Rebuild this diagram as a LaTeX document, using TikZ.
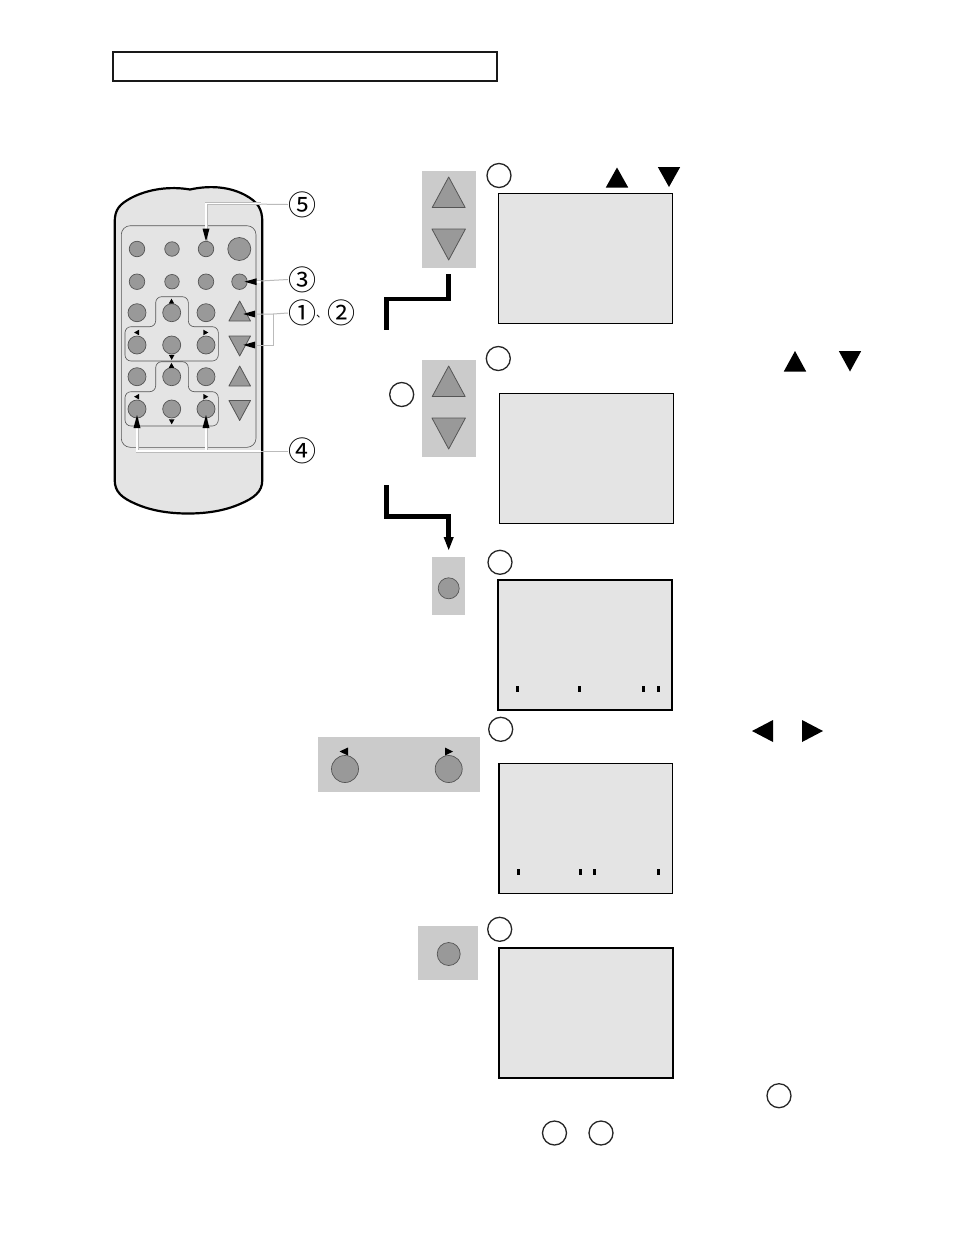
\documentclass[tikz,border=0pt]{standalone}
\usepackage{fontspec}
\newfontfamily\cjkfont{Noto Sans CJK JP}
\usetikzlibrary{arrows.meta}
\definecolor{panelgray}{HTML}{CBCBCB}
\definecolor{screengray}{HTML}{E4E4E4}
\definecolor{btngray}{HTML}{999999}
\definecolor{linegray}{HTML}{555555}
\definecolor{leadgray}{HTML}{BBBBBB}
\tikzset{
  panel/.style={fill=panelgray,draw=none},
  screenbox/.style={fill=screengray,draw=black,line width=1.4pt},
  btn/.style={circle,fill=btngray,draw=linegray,line width=.7pt,inner sep=0pt,minimum size=#1pt},
  tri/.style={fill=btngray,draw=linegray,line width=.8pt,line join=round},
  blacktri/.style={fill=black,draw=none},
  ring/.style={circle,draw=black!85,line width=1.3pt,fill=white,inner sep=0pt,minimum size=24pt},
  callout/.style={font=\cjkfont\fontsize{28}{28}\selectfont,inner sep=0pt},
  tenmark/.style={font=\cjkfont\fontsize{11}{11}\selectfont,inner sep=0pt},
  thin outline/.style={draw=linegray,line width=.6pt,rounded corners=6pt},
  lead/.style={draw=leadgray,line width=1pt},
  leadedge/.style={draw=leadgray,line width=3pt},
  leadin/.style={draw=white,line width=1.9pt},
  tip/.style={draw=none,fill=black},
  heavy/.style={draw=black,line width=4.6pt,line join=miter},
}
\newcommand{\uptri}[4][tri]{\path[#1] (#2,#3) -- (#2-#4*.54,#3+#4) -- (#2+#4*.54,#3+#4) -- cycle;}
\newcommand{\dntri}[4][tri]{\path[#1] (#2,#3) -- (#2-#4*.54,#3-#4) -- (#2+#4*.54,#3-#4) -- cycle;}
\newcommand{\smallup}[2]{\path[blacktri] (#1,#2-2.6) -- (#1-2.8,#2+2.4) -- (#1+2.8,#2+2.4) -- cycle;}
\newcommand{\smalldn}[2]{\path[blacktri] (#1,#2+2.6) -- (#1-2.8,#2-2.4) -- (#1+2.8,#2-2.4) -- cycle;}
\newcommand{\smalllf}[2]{\path[blacktri] (#1-2.6,#2) -- (#1+2.4,#2-2.8) -- (#1+2.4,#2+2.8) -- cycle;}
\newcommand{\smallrt}[2]{\path[blacktri] (#1+2.6,#2) -- (#1-2.4,#2-2.8) -- (#1-2.4,#2+2.8) -- cycle;}
\newcommand{\headleft}[2]{\path[tip] (#1,#2) -- (#1+12,#2-3.4) -- (#1+12,#2+3.4) -- cycle;}
\newcommand{\headup}[2]{\path[tip] (#1,#2) -- (#1-3.5,#2+13) -- (#1+3.5,#2+13) -- cycle;}
\newcommand{\headdown}[2]{\path[tip] (#1,#2) -- (#1-3.5,#2-13) -- (#1+3.5,#2-13) -- cycle;}
\begin{document}
\begin{tikzpicture}[x=1pt,y=-1pt]
\useasboundingbox (0,0) rectangle (954,1235);
\fill[white] (0,0) rectangle (954,1235);

% title box
\node[draw=black!90,line width=2pt,minimum width=384pt,minimum height=29pt,inner sep=0pt,anchor=north west] (title) at (111.7,51) {};

% remote body
\path[fill=screengray,draw=black,line width=2.2pt]
  (114.7,222) .. controls (114.7,209) and (120,204) .. (131,198)
  .. controls (148,189) and (170,186) .. (190,189.5)
  .. controls (208,185.5) and (228,186) .. (245,195)
  .. controls (258,202) and (262.3,209) .. (262.3,222)
  -- (262.3,480) .. controls (262.3,492) and (254,498) .. (240,504)
  .. controls (224,511) and (206,513.5) .. (188,513.5)
  .. controls (170,513.5) and (152,511) .. (136,504)
  .. controls (122,498) and (114.7,492) .. (114.7,480) -- cycle;
\draw[thin outline,rounded corners=9pt,fill=screengray] (121.3,225.7) rectangle (256,447.3);

% d-pad outlines
\draw[thin outline] (155.7,326.7) -- (155.7,296.7) -- (188.3,296.7) -- (188.3,326.7) -- (218.3,326.7) -- (218.3,361) -- (125,361) -- (125,326.7) -- cycle;
\draw[thin outline] (155.7,391.7) -- (155.7,361.7) -- (188.3,361.7) -- (188.3,391.7) -- (218.3,391.7) -- (218.3,426) -- (125,426) -- (125,391.7) -- cycle;

% remote buttons
\node[btn=15.5] (r11) at (137,249) {};
\node[btn=14.5] (r12) at (172,249) {};
\node[btn=15.5] (r13) at (206,249) {};
\node[btn=23]   (r14) at (239.3,249) {};
\node[btn=15.5] (r21) at (137,281.7) {};
\node[btn=14.5] (r22) at (172,281.7) {};
\node[btn=15.5] (r23) at (206,281.7) {};
\node[btn=15.5] (r24) at (239.5,281.7) {};
\node[btn=18] (r31) at (137,312.7) {};
\node[btn=18] (r32) at (171.7,312.7) {};
\node[btn=18] (r33) at (206,312.7) {};
\node[btn=18] (r41) at (137,345) {};
\node[btn=18] (r42) at (171.7,345) {};
\node[btn=18] (r43) at (206,345) {};
\node[btn=18] (r51) at (137,376.7) {};
\node[btn=18] (r52) at (171.7,376.7) {};
\node[btn=18] (r53) at (206,376.7) {};
\node[btn=18] (r61) at (137,409) {};
\node[btn=18] (r62) at (171.7,409) {};
\node[btn=18] (r63) at (206,409) {};

% small markers
\smallup{171.5}{301.3} \smalllf{136.7}{332.5} \smallrt{205.7}{332.5} \smalldn{171.7}{357.3}
\smallup{171.5}{365.5} \smalllf{136.7}{396.7} \smallrt{205.7}{396.7} \smalldn{171.7}{421.7}

% remote triangles
\uptri{239.7}{301}{20}
\dntri{239.7}{356}{20}
\uptri{239.7}{366}{20}
\dntri{239.7}{420.5}{20}
\coordinate (up1) at (243,314);
\coordinate (dn1) at (243,345);

% callouts
\node[callout] (n5) at (302,204.5) {⑤};
\node[callout] (n3) at (302,279.5) {③};
\node[callout] (n1) at (302,313) {①};
\node[tenmark] (ten) at (321.5,316.5) {、};
\node[callout] (n2) at (341,313) {②};
\node[callout] (n4) at (302,451) {④};

% leaders
\coordinate (k5) at (206,203.5);
\coordinate (k4a) at (137,451);
\coordinate (k4b) at (206,451);
\coordinate (k1) at (273,314);
\coordinate (k2) at (273,345);
\coordinate (edge5) at (261,203.5);
\coordinate (edge3) at (261,281.7);
\coordinate (edge4) at (261,451);
\draw[lead] (n5.west) -- (k5) -- (r13.north);
\draw[leadedge] (edge5) -- (k5) -- (r13.north);
\draw[leadin] (edge5) -- (k5) -- (r13.north);
\draw[lead] (n3.west) -- (r24.east);
\draw[leadedge] (edge3) -- (r24.east);
\draw[leadin] (edge3) -- (r24.east);
\draw[lead] (n1.west) -- (k1) -- (up1);
\draw[lead] (k1) -- (k2) -- (dn1);
\draw[lead] (n4.west) -- (k4a) -- (r61.south);
\draw[leadedge] (k4b) -- (r63.south);
\draw[leadedge] (edge4) -- (k4a) -- (r61.south);
\draw[leadin] (edge4) -- (k4a) -- (r61.south);
\draw[leadin] (k4b) -- (r63.south);
\headdown{206}{241.5}
\headleft{244.5}{281.7}
\headleft{243}{314}
\headleft{243}{345}
\headup{137}{415}
\headup{206}{415}

% heavy connectors
\coordinate (h1s) at (448.7,274);
\coordinate (h1a) at (448.7,299);
\coordinate (h1b) at (386.3,299);
\coordinate (h1e) at (386.3,330);
\draw[heavy] (h1s) -- (h1a) -- (h1b) -- (h1e);
\coordinate (h2s) at (386.3,485);
\coordinate (h2a) at (386.3,516.7);
\coordinate (h2b) at (448.7,516.7);
\coordinate (h2e) at (448.7,540);
\draw[heavy] (h2s) -- (h2a) -- (h2b) -- (h2e);
\path[tip] (448.7,550) -- (443.6,537) -- (453.8,537) -- cycle;

% grey panels
\path[panel] (422,171) rectangle (476,268);
\uptri{448.7}{177}{30.5}
\dntri{448.7}{260}{31}
\path[panel] (422,360) rectangle (476,457);
\uptri{448.7}{366}{30.5}
\dntri{448.7}{449}{31}
\path[panel] (432,557) rectangle (465,615);
\node[btn=21] (b3) at (448.7,588.3) {};
\path[panel] (318,737) rectangle (480,792);
\node[btn=27] (b4l) at (345,769) {};
\node[btn=27] (b4r) at (448.7,769) {};
\path[blacktri] (339.5,751.5) -- (348,747.5) -- (348,755.5) -- cycle;
\path[blacktri] (453,751.5) -- (445,747.5) -- (445,755.5) -- cycle;
\path[panel] (418,926) rectangle (478,980);
\node[btn=23] (b5) at (448.7,954) {};

% screens
\node[screenbox,anchor=north west,minimum width=174pt,minimum height=130pt,inner sep=0pt] (s1) at (498,192.9) {};
\node[screenbox,anchor=north west,minimum width=173.6pt,minimum height=130pt,inner sep=0pt] (s2) at (499,392.9) {};
\node[screenbox,line width=2pt,anchor=north west,minimum width=174pt,minimum height=130pt,inner sep=0pt] (s3) at (497,579.3) {};
\node[screenbox,anchor=north west,minimum width=173.4pt,minimum height=130pt,inner sep=0pt] (s4) at (498.3,762.9) {};
\node[screenbox,line width=1.9pt,anchor=north west,minimum width=174pt,minimum height=130pt,inner sep=0pt] (s5) at (498,947.4) {};
\foreach \x in {517.3,579.5,643.3,658.3} \fill[black] (\x-1.5,686) rectangle (\x+1.5,692);
\foreach \x in {518.3,580.4,594.4,658.8} \fill[black] (\x-1.5,869.2) rectangle (\x+1.5,875.2);

% rings
\node[ring] (c1) at (499,175.5) {};
\node[ring] (c2) at (498.3,358.5) {};
\node[ring] (c2b) at (401.7,394.5) {};
\node[ring] (c3) at (500,562.3) {};
\node[ring] (c4) at (500.7,729.3) {};
\node[ring] (c5) at (499.7,929.3) {};
\node[ring] (c6) at (779,1095.7) {};
\node[ring] (c7) at (554.5,1133) {};
\node[ring] (c8) at (601,1133) {};

% black direction triangles
\path[blacktri] (617,167.5) -- (605.8,187.5) -- (628.2,187.5) -- cycle;
\path[blacktri] (669,187) -- (657.8,167) -- (680.2,167) -- cycle;
\path[blacktri] (795,351) -- (783.8,371.5) -- (806.2,371.5) -- cycle;
\path[blacktri] (850,371.5) -- (838.8,351) -- (861.2,351) -- cycle;
\path[blacktri] (752,731) -- (773,720) -- (773,742) -- cycle;
\path[blacktri] (823,731) -- (802,720) -- (802,742) -- cycle;
\end{tikzpicture}
\end{document}
